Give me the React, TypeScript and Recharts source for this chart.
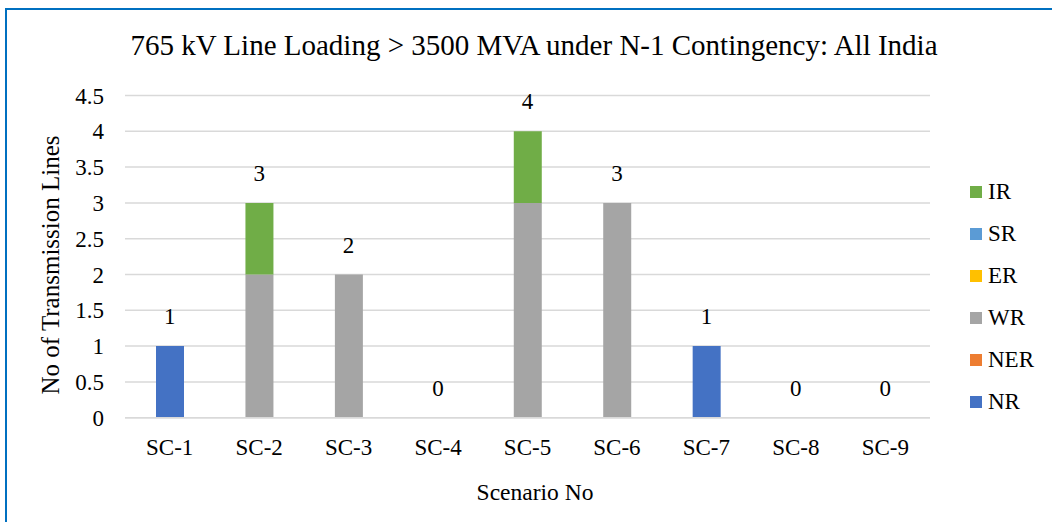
import { Bar, CartesianGrid, ComposedChart, LabelList, Line, XAxis, YAxis } from "recharts";

const scenarios = ["SC-1", "SC-2", "SC-3", "SC-4", "SC-5", "SC-6", "SC-7", "SC-8", "SC-9"];
const nr = [1, 0, 0, 0, 0, 0, 1, 0, 0];
const ner = [0, 0, 0, 0, 0, 0, 0, 0, 0];
const wr = [0, 2, 2, 0, 3, 3, 0, 0, 0];
const er = [0, 0, 0, 0, 0, 0, 0, 0, 0];
const sr = [0, 0, 0, 0, 0, 0, 0, 0, 0];
const ir = [0, 1, 0, 0, 1, 0, 0, 0, 0];
const yTicks = [0, 0.5, 1, 1.5, 2, 2.5, 3, 3.5, 4, 4.5];

const series = [
  { key: "NR", values: nr, color: "#4472C4" },
  { key: "NER", values: ner, color: "#ED7D31" },
  { key: "WR", values: wr, color: "#A5A5A5" },
  { key: "ER", values: er, color: "#FFC000" },
  { key: "SR", values: sr, color: "#5B9BD5" },
  { key: "IR", values: ir, color: "#70AD47" },
];

// one row per scenario, plus the stack total used for the labels
const data = scenarios.map((name, i) => {
  const row: Record<string, number | string> = { name };
  let total = 0;
  series.forEach((s) => {
    row[s.key] = s.values[i];
    total += s.values[i];
  });
  row.total = total;
  return row;
});

const FONT = "Liberation Serif, DejaVu Serif";

const App = () => {
  return (
    <div style={{ position: "absolute", left: 0, top: 0, width: 1052, height: 522, overflow: "hidden", background: "#fff", fontFamily: FONT, color: "#000" }}>
      <style>{`svg text { font-family: ${FONT} !important; }`}</style>
      <div style={{ position: "absolute", left: 5, top: 8, width: 1100, height: 600, borderLeft: "2px solid #0070C0", borderTop: "2px solid #0070C0" }} />
      <div style={{ position: "absolute", left: 0, width: 1068, top: 29, textAlign: "center", fontSize: 29, whiteSpace: "nowrap" }}>
        765 kV Line Loading &gt; 3500 MVA under N-1 Contingency: All India
      </div>
      <div style={{ position: "absolute", left: 51, top: 265, transform: "translate(-50%, -50%) rotate(-90deg)", whiteSpace: "nowrap", fontSize: 25 }}>
        No of Transmission Lines
      </div>
      <div style={{ position: "absolute", left: 0, width: 1070, top: 479, textAlign: "center", fontSize: 23.5 }}>
        Scenario No
      </div>
      <div style={{ position: "absolute", left: 970, top: 171, fontSize: 23 }}>
        {[...series].reverse().map((s) => (
          <div key={s.key} style={{ display: "flex", alignItems: "center", height: 42 }}>
            <span style={{ width: 12, height: 12, background: s.color, marginRight: 6, display: "inline-block" }} />
            {s.key}
          </div>
        ))}
      </div>
      <ComposedChart
        width={1052}
        height={522}
        data={data}
        barSize={28}
        margin={{ top: 95.5, right: 122, left: 65, bottom: 74.3 }}
        style={{ position: "absolute", left: 0, top: 0, fontFamily: FONT }}
      >
        <CartesianGrid vertical={false} stroke="#D9D9D9" strokeWidth={1.5} />
        <XAxis
          dataKey="name"
          axisLine={{ stroke: "#D9D9D9", strokeWidth: 1.5 }}
          tickLine={false}
          tickMargin={15}
          tick={{ fill: "#000", fontSize: 23, fontFamily: FONT }}
        />
        <YAxis
          width={60}
          domain={[0, 4.5]}
          ticks={yTicks}
          axisLine={false}
          tickLine={false}
          tickMargin={15}
          tick={{ fill: "#000", fontSize: 23, fontFamily: FONT }}
        />
        {series.map((s) => (
          <Bar key={s.key} dataKey={s.key} stackId="a" fill={s.color} isAnimationActive={false} />
        ))}
        <Line dataKey="total" stroke="none" dot={false} activeDot={false} isAnimationActive={false}>
          <LabelList dataKey="total" position="top" offset={22} fill="#000" fontSize={23} fontFamily={FONT} />
        </Line>
      </ComposedChart>
    </div>
  );
};

export default App;
